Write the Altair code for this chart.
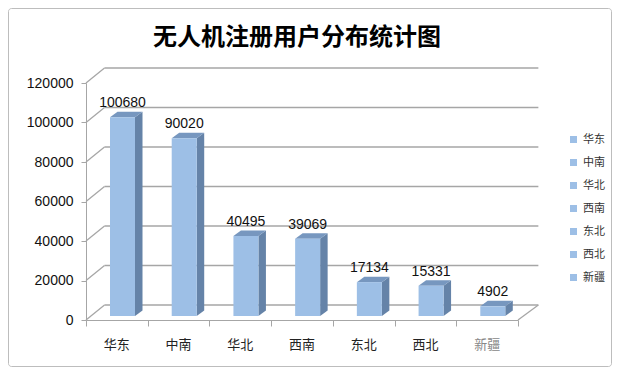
import altair as alt
import pandas as pd

categories = ["华东", "中南", "华北", "西南", "东北", "西北", "新疆"]
users = [100680, 90020, 40495, 39069, 17134, 15331, 4902]
y_ticks = [0, 20000, 40000, 60000, 80000, 100000, 120000]
title_text = "无人机注册用户分布统计图"

# layout (pixels)
W, H = 432, 237
YMAX = 120000
N = len(categories)
CW = W / N
ux = 1.0 / CW
uy = YMAX / H
BAR_LEFT, BAR_W = 24, 25
DDX, DDY = 7.5, 5.5          # bar depth
BASE = 4                      # bars sit behind the front edge
WDX, WDY = 18.5, 15           # back wall offset
XR = 7.33                     # right end of back wall (category units)

FRONT = "#9dbfe6"
SIDE = "#6583a8"
TOP = "#7797bf"
GRID = "#a6a6a6"

rows = []
side_rows = []
top_rows = []
for i, (c, v) in enumerate(zip(categories, users)):
    x0 = i + BAR_LEFT * ux
    x1 = x0 + BAR_W * ux
    base = BASE * uy
    top = base + v
    dx, dy = DDX * ux, DDY * uy
    rows.append(dict(cat=c, x0=x0, x1=x1, xc=(x0 + x1) / 2, xm=i + 0.5,
                     base=base, top=top, zero=0, label=str(v)))
    side_rows += [dict(cat=c, x=x1, y=top, y2=base),
                  dict(cat=c, x=x1 + dx, y=top + dy, y2=base + dy)]
    top_rows += [dict(cat=c, x=x0, y=top, y2=top),
                 dict(cat=c, x=x0 + dx, y=top + dy, y2=top),
                 dict(cat=c, x=x1, y=top + dy, y2=top),
                 dict(cat=c, x=x1 + dx, y=top + dy, y2=top + dy)]
bars = pd.DataFrame(rows)
sides = pd.DataFrame(side_rows)
tops = pd.DataFrame(top_rows)

grid_rows = []
for t in y_ticks:
    grid_rows.append(dict(x=WDX * ux, x2=XR, y=t + WDY * uy, y2=t + WDY * uy))
    grid_rows.append(dict(x=0, x2=WDX * ux, y=t, y2=t + WDY * uy))
grid_rows.append(dict(x=N, x2=XR, y=0, y2=WDY * uy))
grid = pd.DataFrame(grid_rows)

xs = alt.Scale(domain=[0, N], nice=False, zero=False)
ys = alt.Scale(domain=[0, YMAX], nice=False)
xaxis = alt.Axis(values=list(range(N + 1)), labels=False, tickSize=6, grid=False, title=None,
                 domainColor=GRID, tickColor=GRID)
yaxis = alt.Axis(values=y_ticks, format="d", grid=False, title=None, tickSize=5, labelFontSize=14,
                 labelColor="#111", labelPadding=8, labelFont="Liberation Sans",
                 domainColor=GRID, tickColor=GRID, labelFlush=False)


def X(f):
    return alt.X(f, scale=xs, axis=xaxis)


def Y(f, **kw):
    return alt.Y(f, scale=ys, axis=yaxis, **kw)


frame = alt.Chart(alt.Data(values=[{"a": 1}])).mark_rect(
    filled=False, stroke="#bdbdbd", strokeWidth=1, cornerRadius=3
).encode(x=alt.value(-77.5), x2=alt.value(525.5), y=alt.value(-74.5), y2=alt.value(283.5))

gridlines = alt.Chart(grid).mark_rule(color=GRID, strokeWidth=1.3).encode(
    x=X("x:Q"), x2="x2:Q", y=Y("y:Q"), y2="y2:Q",
)
side = alt.Chart(sides).mark_area(color=SIDE, interpolate="linear").encode(
    x=X("x:Q"), y=Y("y:Q", stack=False), y2="y2:Q", detail="cat:N",
)
topf = alt.Chart(tops).mark_area(color=TOP, interpolate="linear").encode(
    x=X("x:Q"), y=Y("y:Q", stack=False), y2="y2:Q", detail="cat:N",
)
front = alt.Chart(bars).mark_rect().encode(
    x=X("x0:Q"), x2="x1:Q", y=Y("top:Q"), y2="base:Q",
    color=alt.Color("cat:N", scale=alt.Scale(domain=categories, range=[FRONT] * N),
                    legend=alt.Legend(orient="none", legendX=482, legendY=51, title=None,
                                      symbolType="square", symbolSize=49, symbolStrokeWidth=0,
                                      labelFontSize=11, labelFont="Noto Sans CJK SC",
                                      labelColor="#333", rowPadding=11, labelOffset=4)),
)
values = alt.Chart(bars).mark_text(dy=-10, baseline="alphabetic", fontSize=14,
                                   font="Liberation Sans", color="#111").encode(
    x=X("xc:Q"), y=Y("top:Q"), text="label:N",
)
catlabels = alt.Chart(bars).mark_text(dy=25, baseline="middle", fontSize=13,
                                      font="Noto Sans CJK SC").encode(
    x=X("xm:Q"), y=Y("zero:Q"), text="cat:N",
    color=alt.condition(alt.datum.cat == "新疆", alt.value("#888888"), alt.value("#222222")),
)
title = alt.Chart(alt.Data(values=[{"t": title_text}])).mark_text(
    fontSize=24, fontWeight="bold", font="Noto Sans CJK SC", color="#000", baseline="middle"
).encode(x=alt.value(211), y=alt.value(-45), text="t:N")

chart = alt.layer(frame, gridlines, side, topf, front, values, catlabels, title).properties(
    width=W, height=H,
    autosize=alt.AutoSizeParams(type="none"),
    padding={"left": 78, "top": 75, "right": 94, "bottom": 47},
    background="white",
).configure_view(stroke=None)

chart.save("out.html", embed_options={"renderer": "svg", "actions": False})
